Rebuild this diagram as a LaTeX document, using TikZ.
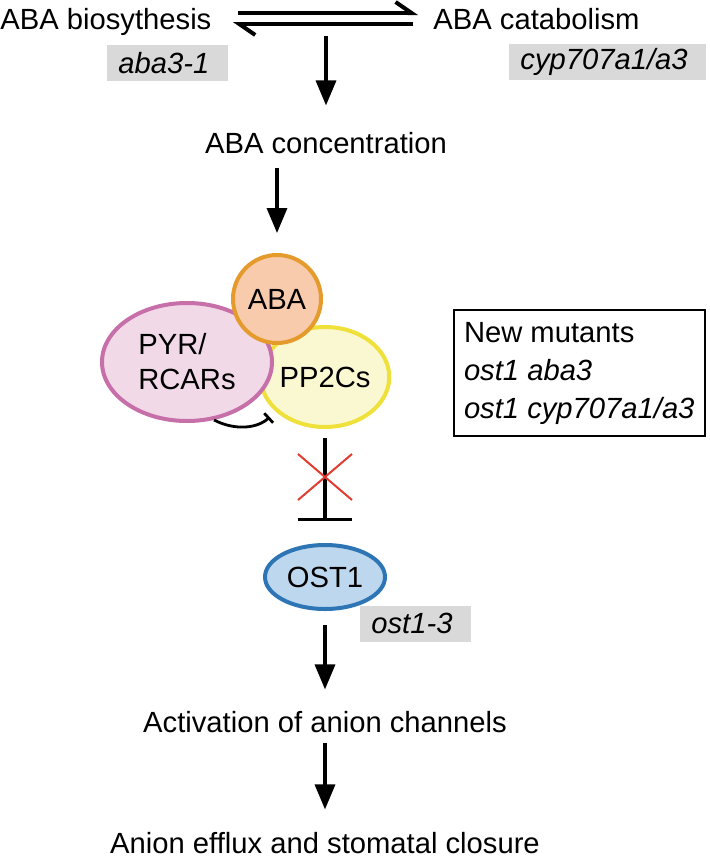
\documentclass[tikz,border=0pt]{standalone}
\usepackage{fontspec}
\setmainfont{Liberation Sans}
\usepackage{tikz}
\usetikzlibrary{shapes.geometric,shapes.misc,arrows.meta}

\definecolor{mutgray}{HTML}{D9D9D9}
\definecolor{abafill}{HTML}{F8CBAD}
\definecolor{abaline}{HTML}{E59A2C}
\definecolor{pyrfill}{HTML}{F2D9E8}
\definecolor{pyrline}{HTML}{C66FA9}
\definecolor{ppfill}{HTML}{FAF8D0}
\definecolor{ppline}{HTML}{F0E03A}
\definecolor{ostfill}{HTML}{BDD7EE}
\definecolor{ostline}{HTML}{2E75B6}
\definecolor{xred}{HTML}{E03C31}

\begin{document}
\begin{tikzpicture}[
    x=0.5pt, y=0.5pt,
    txt/.style={font=\fontsize{14.6}{17.5}\selectfont, inner sep=0pt},
    mutant/.style={txt, font=\fontsize{14.6}{17.5}\selectfont\itshape, fill=mutgray, anchor=west, inner xsep=5.5pt, minimum height=18pt, align=left},
    prot/.style={txt, ellipse, line width=2pt},
    flow/.style={-{Triangle[length=12.5pt, width=10pt]}, line width=1.7pt},
    eqarr/.style={-{Straight Barb[left, length=8pt, width=11pt]}, line width=2pt},
    block/.style={-{Bar[width=6.5pt]}, line width=1.4pt},
    inhibit/.style={-{Bar[width=27pt]}, line width=1.75pt}
]
    \useasboundingbox (0,0) rectangle (709,-862);

    \node[txt, anchor=base west] (bio) at (0,-29) {ABA biosythesis};
    \node[txt, anchor=base west] (cat) at (433,-29) {ABA catabolism};
    \node[mutant, text width=49.5pt] (aba3) at (107,-63) {aba3-1};
    \node[mutant, text width=87.5pt] (cyp) at (509,-61.5) {cyp707a1/a3};
    \coordinate (pool) at (326,-36);
    \node[txt, anchor=base] (conc) at (326,-153) {ABA concentration};

    \draw[eqarr] ([shift={(13pt,8pt)}]bio.base east) -- ([shift={(-7.5pt,8pt)}]cat.base west);
    \draw[eqarr] ([shift={(-10pt,2.5pt)}]cat.base west) -- ([shift={(10.5pt,2.5pt)}]bio.base east);
    \draw[flow, shorten >=13pt] (pool) -- (conc.north);

    % receptor complex
    \node[prot, draw=ppline, fill=ppfill, minimum width=63pt, minimum height=50pt] (pp) at (325,-377) {PP2Cs};
    \node[prot, draw=pyrline, fill=pyrfill, minimum width=85pt, minimum height=59pt, align=left] (pyr) at (187,-362) {PYR/\\RCARs};
    \node[prot, circle, draw=abaline, fill=abafill, minimum size=44pt] (aba) at (277,-299) {ABA};
    \draw[flow, shorten <=7pt, shorten >=10pt] (conc.south -| aba.north) -- (aba.north);
    \draw[block, shorten >=4pt] (pyr.295) to[bend right=35] (pp.215);

    \node[txt, draw, line width=1pt, align=left, anchor=north west, inner xsep=5pt, inner ysep=6pt, font=\fontsize{14.6}{19}\selectfont] (newmut) at (453,-309) {New mutants\\\textit{ost1 aba3}\\\textit{ost1 cyp707a1/a3}};

    \node[prot, draw=ostline, fill=ostfill, minimum width=60pt, minimum height=32pt] (ost) at (325,-577) {OST1};
    \node[mutant, text width=44.5pt] (ost13) at (360,-623.5) {ost1-3};
    \draw[inhibit, shorten <=4.5pt, shorten >=11pt] (pp.south) -- (ost.north);
    \node[cross out, draw=xred, line width=1pt, minimum width=26pt, minimum height=22pt, inner sep=0pt] (cut) at (325,-477) {};

    \node[txt, anchor=base] (act) at (325,-732) {Activation of anion channels};
    \node[txt, anchor=base] (eff) at (325,-853) {Anion efflux and stomatal closure};
    \draw[flow, shorten <=7pt, shorten >=10.5pt] (ost.south) -- (act.north);
    \draw[flow, shorten <=5pt, shorten >=11pt] (act.south) -- (eff.north);
\end{tikzpicture}
\end{document}
